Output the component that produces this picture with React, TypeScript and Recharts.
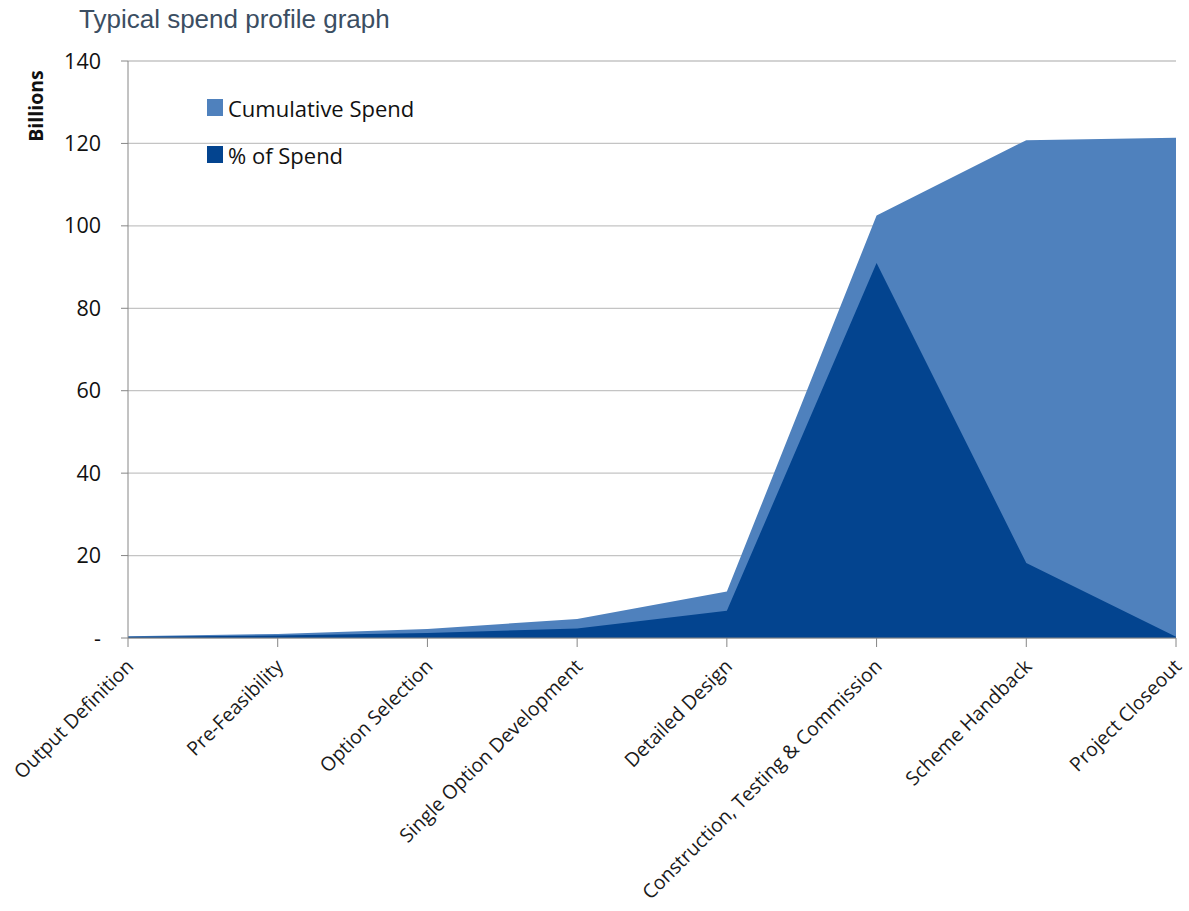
import { Area, AreaChart, CartesianGrid, XAxis, YAxis } from "recharts";

const stages = [
  "Output Definition",
  "Pre-Feasibility",
  "Option Selection",
  "Single Option Development",
  "Detailed Design",
  "Construction, Testing & Commission",
  "Scheme Handback",
  "Project Closeout",
];
const cumulativeSpend = [0.4, 1.0, 2.2, 4.6, 11.3, 102.5, 120.8, 121.4];
const pctOfSpend = [0.3, 0.6, 1.2, 2.3, 6.6, 91, 18.2, 0.3];
const yTicks = [0, 20, 40, 60, 80, 100, 120, 140];

const LIGHT = "#4f81bd";
const DARK = "#03448f";
const FONT = "'Open Sans', sans-serif";

const series = [
  { key: "cumulative", name: "Cumulative Spend", color: LIGHT },
  { key: "pct", name: "% of Spend", color: DARK },
];

const data = stages.map((stage, i) => ({
  stage,
  cumulative: cumulativeSpend[i],
  pct: pctOfSpend[i],
}));

function StageTick({ x, y, payload }: any) {
  return (
    <g transform={`translate(${x - 3},${y + 9})`}>
      <text
        textAnchor="end"
        transform="rotate(-45)"
        dy="0.7em"
        fontFamily={FONT}
        fontSize={19.5}
        fill="#1a1a1a"
      >
        {payload.value}
      </text>
    </g>
  );
}

export default function App() {
  return (
    <div style={{ position: "absolute", left: 0, top: 0, width: 1189, height: 911, background: "#fff" }}>
      <div
        style={{
          position: "absolute",
          left: 79,
          top: 4,
          fontFamily: "'Liberation Sans', Arial, sans-serif",
          fontSize: 26,
          color: "#3b4e62",
        }}
      >
        Typical spend profile graph
      </div>
      <div style={{ position: "absolute", left: 207, top: 84, fontFamily: FONT, fontSize: 22, color: "#111", zIndex: 2 }}>
        {series.map((s) => (
          <div key={s.key} style={{ display: "flex", alignItems: "center", height: 47 }}>
            <span style={{ width: 16, height: 17, background: s.color, marginRight: 5, display: "inline-block" }} />
            {s.name}
          </div>
        ))}
      </div>
      <AreaChart width={1189} height={911} data={data} margin={{ top: 61, right: 13, left: 0, bottom: 0 }}>
        <CartesianGrid vertical={false} stroke="#c4c4c4" strokeWidth={1.3} />
        <XAxis
          dataKey="stage"
          height={273}
          interval={0}
          tick={<StageTick />}
          tickSize={9}
          tickLine={{ stroke: "#868686" }}
          axisLine={{ stroke: "#868686" }}
        />
        <YAxis
          width={128}
          domain={[0, 140]}
          ticks={yTicks}
          interval={0}
          tickSize={7}
          tickMargin={20}
          tickFormatter={(v: number) => (v === 0 ? "-" : String(v))}
          tick={{ fontFamily: FONT, fontSize: 21.5, fill: "#111" }}
          tickLine={{ stroke: "#868686" }}
          axisLine={{ stroke: "#868686" }}
          label={() => (
            <text
              x={35}
              y={106}
              transform="rotate(-90 35 106)"
              textAnchor="middle"
              dominantBaseline="central"
              fontFamily={FONT}
              fontWeight="bold"
              fontSize={19.5}
              fill="#111"
            >
              Billions
            </text>
          )}
        />
        {series.map((s) => (
          <Area
            key={s.key}
            type="linear"
            dataKey={s.key}
            name={s.name}
            stroke="none"
            fill={s.color}
            fillOpacity={1}
            isAnimationActive={false}
            activeDot={false}
          />
        ))}
      </AreaChart>
    </div>
  );
}
